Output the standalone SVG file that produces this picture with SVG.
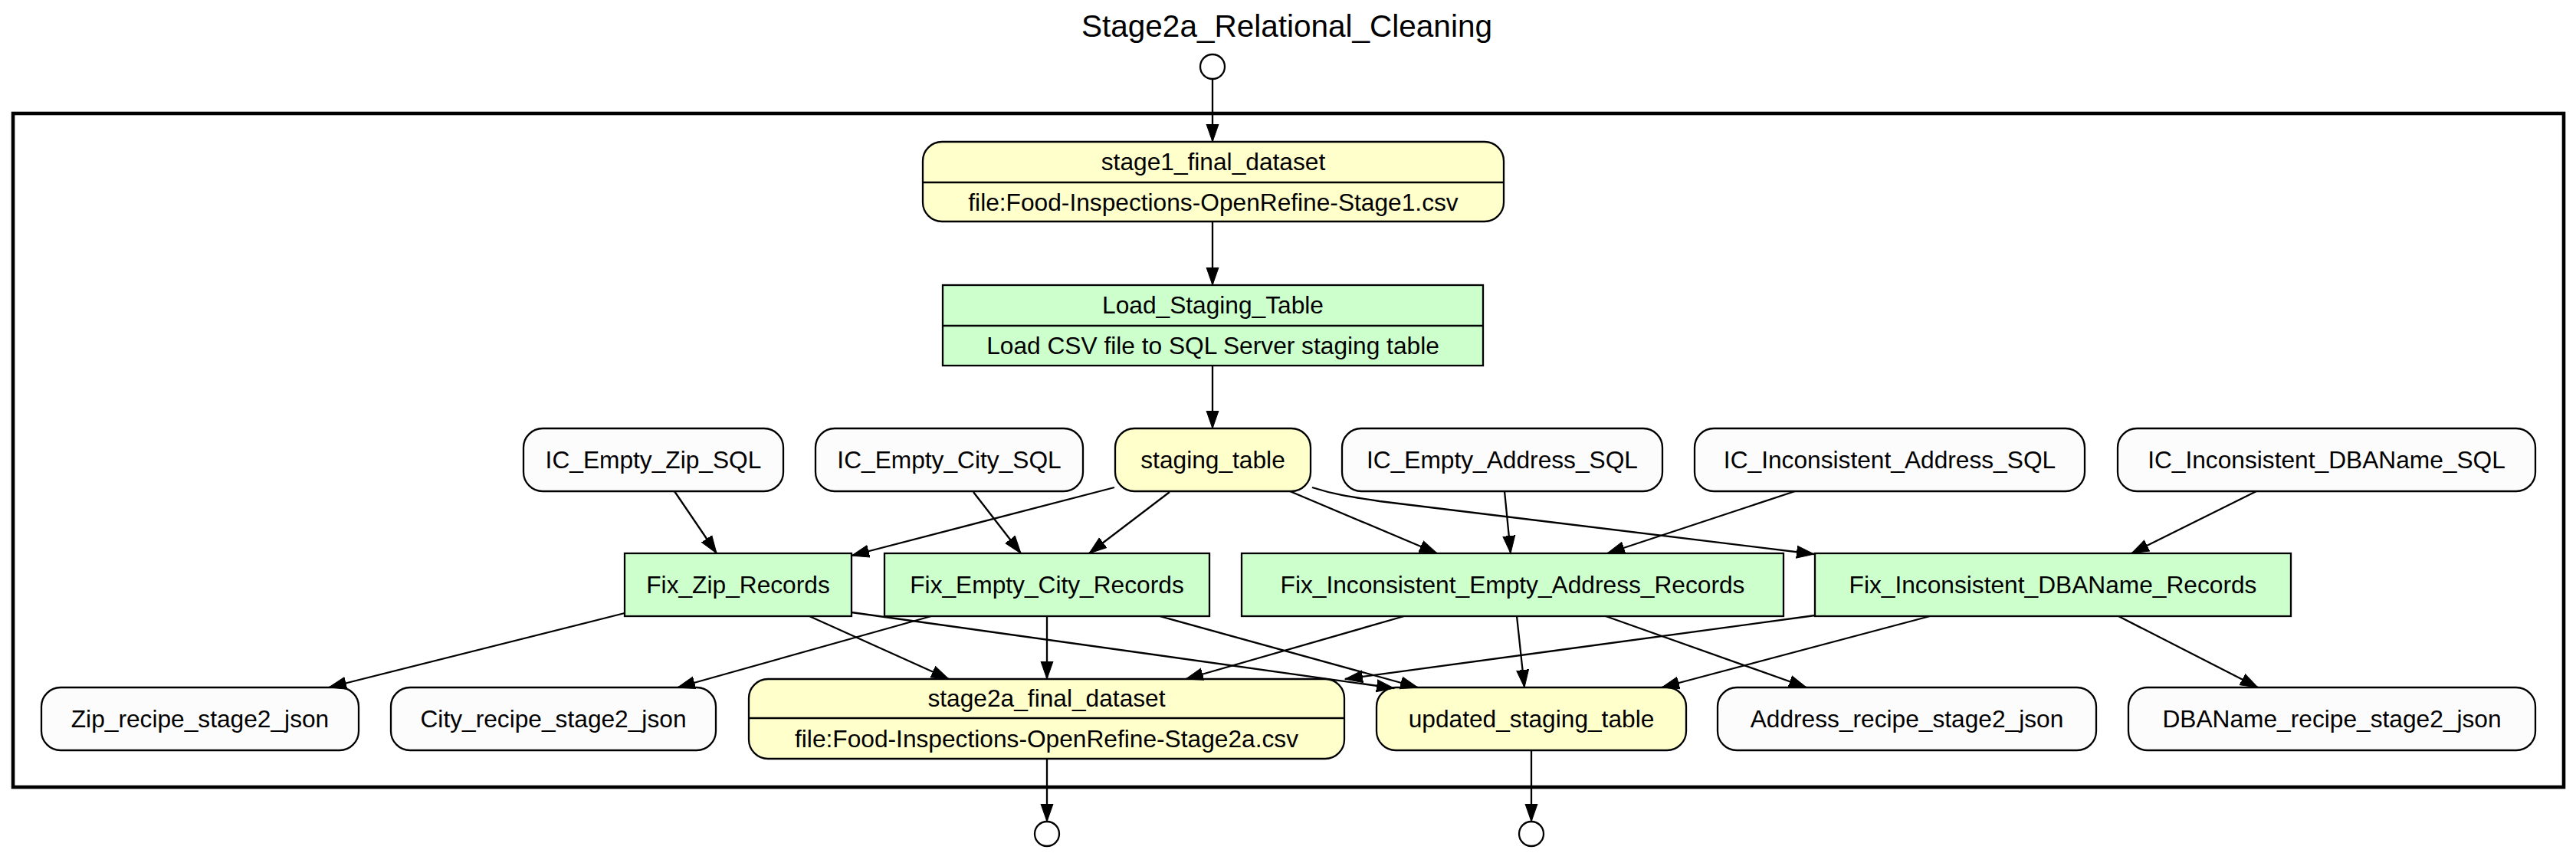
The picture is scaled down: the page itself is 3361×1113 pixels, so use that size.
<svg xmlns="http://www.w3.org/2000/svg" width="3361" height="1113" viewBox="0 0 3361 1113">
<style>
text{font-family:"Liberation Sans",Arial,Helvetica,sans-serif;fill:#000;text-anchor:middle}
.lbl{font-size:31.7px}
.title{font-size:40.5px}
.data{fill:#FFFFCC;stroke:#000;stroke-width:2.3}
.step{fill:#CCFFCC;stroke:#000;stroke-width:2.3}
.param{fill:#FCFCFC;stroke:#000;stroke-width:2.3}
.div{stroke:#000;stroke-width:2.3}
.port{fill:#fff;stroke:#000;stroke-width:2.3}
.e{fill:none;stroke:#000;stroke-width:2.3;marker-end:url(#arr)}
</style>
<defs>
<marker id="arr" markerUnits="userSpaceOnUse" markerWidth="26" markerHeight="20" viewBox="0 -10 26 20" refX="23" refY="0" orient="auto">
<path d="M0,-8 L23,0 L0,8 Z" fill="#000" stroke="#000" stroke-width="1"/>
</marker>
</defs>
<rect width="3361" height="1113" fill="#fff"/>
<text class="title" x="1679" y="48">Stage2a_Relational_Cleaning</text>
<rect id="workflow_boundary" x="17" y="148" width="3328" height="879" fill="none" stroke="#000" stroke-width="4.6"/>

<g id="input_port"><circle class="port" cx="1582" cy="87" r="16"/></g>
<g id="output_port_stage2a"><circle class="port" cx="1366" cy="1088" r="16"/></g>
<g id="output_port_updated"><circle class="port" cx="1998" cy="1088" r="16"/></g>

<g id="stage1_final_dataset">
<rect class="data" x="1204" y="185" width="758" height="104" rx="25" ry="25"/>
<line class="div" x1="1204" y1="238" x2="1962" y2="238"/>
<text class="lbl" x="1583" y="222">stage1_final_dataset</text>
<text class="lbl" x="1583" y="275">file:Food-Inspections-OpenRefine-Stage1.csv</text>
</g>
<g id="Load_Staging_Table">
<rect class="step" x="1230" y="372" width="705" height="105"/>
<line class="div" x1="1230" y1="425" x2="1935" y2="425"/>
<text class="lbl" x="1582.5" y="409">Load_Staging_Table</text>
<text class="lbl" x="1582.5" y="462">Load CSV file to SQL Server staging table</text>
</g>
<g id="IC_Empty_Zip_SQL">
<rect class="param" x="683" y="559" width="339" height="82" rx="25" ry="25"/>
<text class="lbl" x="852.5" y="611">IC_Empty_Zip_SQL</text>
</g>
<g id="IC_Empty_City_SQL">
<rect class="param" x="1064" y="559" width="349" height="82" rx="25" ry="25"/>
<text class="lbl" x="1238.5" y="611">IC_Empty_City_SQL</text>
</g>
<g id="staging_table">
<rect class="data" x="1455" y="559" width="255" height="82" rx="25" ry="25"/>
<text class="lbl" x="1582.5" y="611">staging_table</text>
</g>
<g id="IC_Empty_Address_SQL">
<rect class="param" x="1751" y="559" width="418" height="82" rx="25" ry="25"/>
<text class="lbl" x="1960" y="611">IC_Empty_Address_SQL</text>
</g>
<g id="IC_Inconsistent_Address_SQL">
<rect class="param" x="2211" y="559" width="509" height="82" rx="25" ry="25"/>
<text class="lbl" x="2465.5" y="611">IC_Inconsistent_Address_SQL</text>
</g>
<g id="IC_Inconsistent_DBAName_SQL">
<rect class="param" x="2763" y="559" width="545" height="82" rx="25" ry="25"/>
<text class="lbl" x="3035.5" y="611">IC_Inconsistent_DBAName_SQL</text>
</g>
<g id="Fix_Zip_Records">
<rect class="step" x="815" y="722" width="296" height="82"/>
<text class="lbl" x="963" y="774">Fix_Zip_Records</text>
</g>
<g id="Fix_Empty_City_Records">
<rect class="step" x="1154" y="722" width="424" height="82"/>
<text class="lbl" x="1366" y="774">Fix_Empty_City_Records</text>
</g>
<g id="Fix_Inconsistent_Empty_Address_Records">
<rect class="step" x="1620" y="722" width="707" height="82"/>
<text class="lbl" x="1973.5" y="774">Fix_Inconsistent_Empty_Address_Records</text>
</g>
<g id="Fix_Inconsistent_DBAName_Records">
<rect class="step" x="2368" y="722" width="621" height="82"/>
<text class="lbl" x="2678.5" y="774">Fix_Inconsistent_DBAName_Records</text>
</g>
<g id="Zip_recipe_stage2_json">
<rect class="param" x="54" y="897" width="414" height="82" rx="25" ry="25"/>
<text class="lbl" x="261" y="949">Zip_recipe_stage2_json</text>
</g>
<g id="City_recipe_stage2_json">
<rect class="param" x="510" y="897" width="424" height="82" rx="25" ry="25"/>
<text class="lbl" x="722" y="949">City_recipe_stage2_json</text>
</g>
<g id="stage2a_final_dataset">
<rect class="data" x="977" y="886" width="777" height="104" rx="25" ry="25"/>
<line class="div" x1="977" y1="937" x2="1754" y2="937"/>
<text class="lbl" x="1365.5" y="922">stage2a_final_dataset</text>
<text class="lbl" x="1365.5" y="975">file:Food-Inspections-OpenRefine-Stage2a.csv</text>
</g>
<g id="updated_staging_table">
<rect class="data" x="1796" y="897" width="404" height="82" rx="25" ry="25"/>
<text class="lbl" x="1998" y="949">updated_staging_table</text>
</g>
<g id="Address_recipe_stage2_json">
<rect class="param" x="2241" y="897" width="494" height="82" rx="25" ry="25"/>
<text class="lbl" x="2488" y="949">Address_recipe_stage2_json</text>
</g>
<g id="DBAName_recipe_stage2_json">
<rect class="param" x="2777" y="897" width="531" height="82" rx="25" ry="25"/>
<text class="lbl" x="3042.5" y="949">DBAName_recipe_stage2_json</text>
</g>

<g id="connectors">
<path class="e" d="M1582,103 L1582,185"/>
<path class="e" d="M1582,289 L1582,372"/>
<path class="e" d="M1582,477 L1582,559"/>
<path class="e" d="M880,641 L935,722"/>
<path class="e" d="M1454,636 L1111,725"/>
<path class="e" d="M1270,642 L1332,722"/>
<path class="e" d="M1526,642 L1421,722"/>
<path class="e" d="M1683,641 L1875,722"/>
<path class="e" d="M1963,641 L1971,722"/>
<path class="e" d="M2342,641 L2097,722"/>
<path class="e" d="M1712,636 C1740,645 1760,648 1800,654 L2367,723"/>
<path class="e" d="M2944,641 L2781,722"/>
<path class="e" d="M815,800 L429,897"/>
<path class="e" d="M1056,804 L1238,886"/>
<path class="e" d="M1111,799 L1819,898"/>
<path class="e" d="M1215,804 L884,897"/>
<path class="e" d="M1366,804 L1366,886"/>
<path class="e" d="M1513,804 L1850,897"/>
<path class="e" d="M1832,804 L1547,886"/>
<path class="e" d="M1979,804 L1989,897"/>
<path class="e" d="M2095,804 L2357,897"/>
<path class="e" d="M2368,803 L1755,886"/>
<path class="e" d="M2518,804 L2168,897"/>
<path class="e" d="M2764,804 L2946,897"/>
<path class="e" d="M1366,990 L1366,1072"/>
<path class="e" d="M1998,979 L1998,1072"/>
</g>
</svg>
